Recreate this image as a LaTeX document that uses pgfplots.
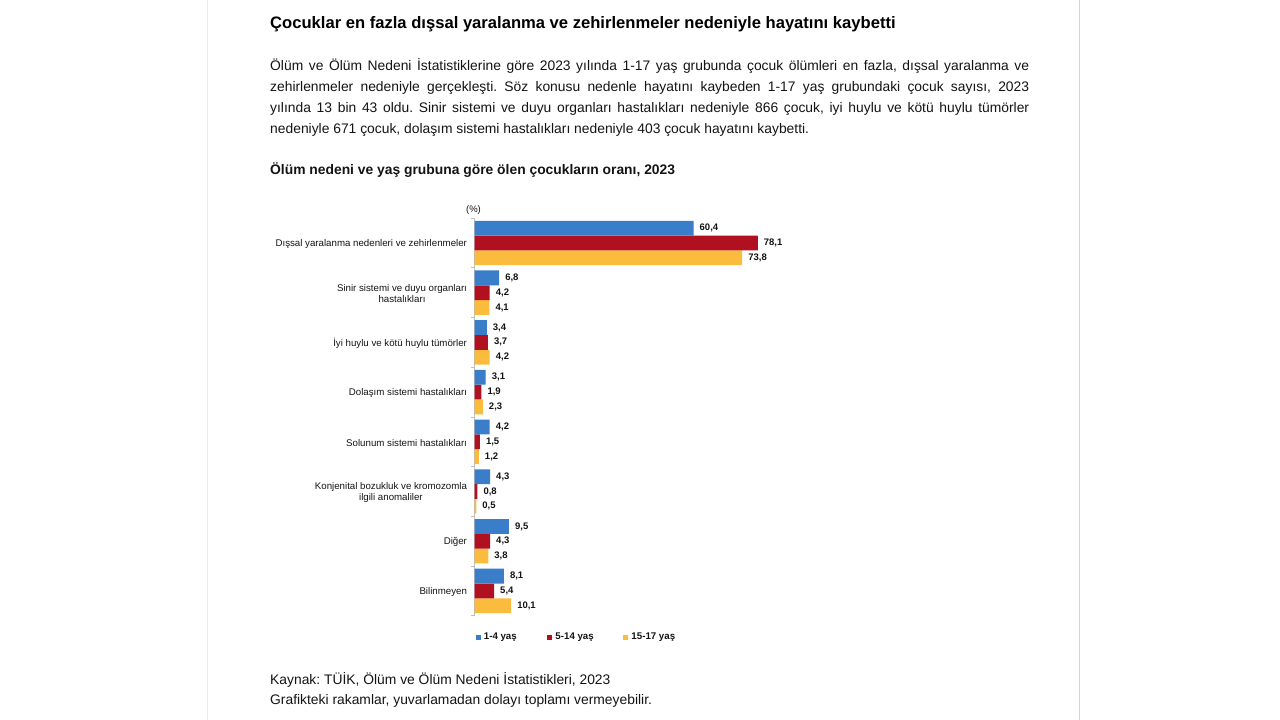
\documentclass[border=0pt]{standalone}
\usepackage{fontspec}
\setmainfont{Liberation Sans}
\usepackage{pgfplots}
\pgfplotsset{compat=1.18}
\definecolor{cblue}{RGB}{58,125,200}
\definecolor{cred}{RGB}{176,16,32}
\definecolor{cyellow}{RGB}{251,188,62}
\definecolor{lline}{RGB}{236,236,236}
\definecolor{rline}{RGB}{212,212,212}
\definecolor{axgray}{RGB}{190,190,190}
\definecolor{txt}{RGB}{20,20,20}
\pgfplotsset{sqleg/.style={legend image code/.code={\fill[##1] (0pt,-2.6pt) rectangle (5.2pt,2.6pt);\path (0pt,0pt) -- (6.7pt,0pt);}}}
\frenchspacing
\begin{document}
\begin{tikzpicture}[x=1pt,y=1pt]
\fill[white] (0,0) rectangle (1280,720);
\useasboundingbox (0,0) rectangle (1280,720);
\draw[lline, line width=1pt] (207.5,0) -- (207.5,720);
\draw[rline, line width=1pt] (1079.5,0) -- (1079.5,720);
\node[anchor=base west, inner sep=0pt, text=black, font=\bfseries\fontsize{16.6}{20}\selectfont] at (270,691.5) {Çocuklar en fazla dışsal yaralanma ve zehirlenmeler nedeniyle hayatını kaybetti};
\begin{scope}[every node/.style={anchor=base west, inner sep=0pt, text=txt, font=\fontsize{13.85}{16}\selectfont}]
\node at (270,649) {\makebox[759pt][s]{Ölüm ve Ölüm Nedeni İstatistiklerine göre 2023 yılında 1-17 yaş grubunda çocuk ölümleri en fazla, dışsal yaralanma ve}};
\node at (270,628) {\makebox[759pt][s]{zehirlenmeler nedeniyle gerçekleşti. Söz konusu nedenle hayatını kaybeden 1-17 yaş grubundaki çocuk sayısı, 2023}};
\node at (270,607) {\makebox[759pt][s]{yılında 13 bin 43 oldu. Sinir sistemi ve duyu organları hastalıkları nedeniyle 866 çocuk, iyi huylu ve kötü huylu tümörler}};
\node at (270,586) {nedeniyle 671 çocuk, dolaşım sistemi hastalıkları nedeniyle 403 çocuk hayatını kaybetti.};
\node[font=\bfseries\fontsize{13.85}{16}\selectfont] at (270,545) {Ölüm nedeni ve yaş grubuna göre ölen çocukların oranı, 2023};
\node at (270,35) {Kaynak: TÜİK, Ölüm ve Ölüm Nedeni İstatistikleri, 2023};
\node at (270,15) {Grafikteki rakamlar, yuvarlamadan dolayı toplamı vermeyebilir.};
\end{scope}
\node[anchor=base, inner sep=0pt, text=txt, font=\fontsize{9.5}{11}\selectfont] at (473.5,507) {(\%)};
\begin{axis}[
  at={(474.5pt,104.2pt)}, anchor=south west,
  scale only axis, width=300pt, height=397.7pt,
  xmin=0, xmax=82.71, ymin=-0.5, ymax=7.5, y dir=reverse,
  xbar=0pt, bar width=14.8pt,
  axis x line=none, axis y line=left,
  axis line style={-, draw=axgray, line width=0.8pt},
  ytick={0,...,7}, major tick length=0pt,
  minor ytick={-0.5,0.5,...,7.5}, minor tick length=4pt,
  tick align=outside, tick pos=left,
  minor tick style={draw=axgray, line width=0.8pt},
  yticklabels={{Dışsal yaralanma nedenleri ve zehirlenmeler},
    {Sinir sistemi ve duyu organları\\hastalıkları},
    {İyi huylu ve kötü huylu tümörler},
    {Dolaşım sistemi hastalıkları},
    {Solunum sistemi hastalıkları},
    {Konjenital bozukluk ve kromozomla\\ilgili anomaliler},
    {Diğer},
    {Bilinmeyen}},
  yticklabel style={align=center, font=\fontsize{9.7}{11.5}\selectfont, text=txt, xshift=-4pt, yshift=-1pt},
  nodes near coords={\pgfmathprintnumber[assume math mode=true,fixed,fixed zerofill,precision=1,use comma]{\pgfplotspointmeta}},
  nodes near coords style={font=\bfseries\fontsize{9.5}{11}\selectfont, text=txt, xshift=2.6pt},
  legend style={at={(0.0033,-0.054)}, anchor=west, draw=none, fill=none, inner sep=0pt,
    font=\bfseries\fontsize{9.7}{11}\selectfont, text=txt,
    nodes={inner sep=1.5pt}, legend columns=-1},
  legend cell align=left, reverse legend,
]
\addplot[fill=cyellow, draw=none, sqleg] coordinates {(73.8,0) (4.1,1) (4.2,2) (2.3,3) (1.2,4) (0.5,5) (3.8,6) (10.1,7)};
\addplot[fill=cred, draw=none, sqleg] coordinates {(78.1,0) (4.2,1) (3.7,2) (1.9,3) (1.5,4) (0.8,5) (4.3,6) (5.4,7)};
\addplot[fill=cblue, draw=none, sqleg] coordinates {(60.4,0) (6.8,1) (3.4,2) (3.1,3) (4.2,4) (4.3,5) (9.5,6) (8.1,7)};
\legend{15-17 yaş,\makebox[66.3pt][l]{5-14 yaş},\makebox[61.9pt][l]{1-4 yaş}}
\end{axis}
\end{tikzpicture}
\end{document}
